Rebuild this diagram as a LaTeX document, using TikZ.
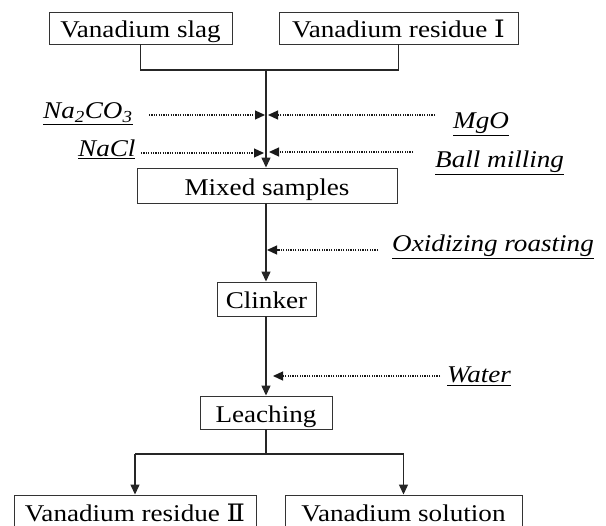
\documentclass[tikz,border=0pt]{standalone}
\usepackage{fontspec}
\usepackage{graphicx}
\setmainfont{Liberation Serif}
\newfontfamily\numfont{DejaVu Serif}
\newcommand{\sx}[1]{\scalebox{1.13}[1]{#1}}
\usetikzlibrary{arrows.meta}
\begin{document}
\begin{tikzpicture}[x=1pt,y=-1pt,
  box/.style={draw=black!80, line width=0.9pt, inner sep=0pt, rectangle,
    text height=19.5pt, text depth=0pt,
    font=\fontsize{24}{26}\selectfont\rmfamily},
  lbl/.style={inner sep=0pt, anchor=base west, font=\fontsize{24}{26}\selectfont\rmfamily\itshape},
  flow/.style={draw=black!85, line width=1.3pt},
  flowarrow/.style={flow, -{Triangle[length=10pt,width=9pt]}},
  feed/.style={draw=black!90, line width=1.2pt, dash pattern=on 1.2pt off 1.2pt,
    -{Triangle[length=10pt,width=9pt]}},
]
\useasboundingbox (0,0) rectangle (606,526);
\fill[white] (0,0) rectangle (606,526);

% boxes
\node[box, minimum width=183pt, minimum height=32pt] (slag) at (140.5,28) {\sx{Vanadium slag}};
\node[box, minimum width=239pt, minimum height=32pt] (res1) at (398.5,28) {\sx{Vanadium residue {\numfont Ⅰ}}};
\node[box, minimum width=260pt, minimum height=35pt] (mixed) at (267,185.5) {\sx{Mixed samples}};
\node[box, minimum width=99pt, minimum height=34pt] (clinker) at (266.5,299) {\sx{Clinker}};
\node[box, minimum width=132pt, minimum height=33pt] (leach) at (266,412.5) {\sx{Leaching}};
\node[box, minimum width=242pt, minimum height=33pt] (res2) at (135,511.5) {\sx{Vanadium residue {\numfont Ⅱ}}};
\node[box, minimum width=237pt, minimum height=33pt] (sol) at (403.5,511.5) {\sx{Vanadium solution}};

% labels
\node[lbl] (na2co3) at (43,119) {\sx{\underline{Na\textsubscript{2}CO\textsubscript{3}}}};
\node[lbl] (nacl) at (78,157) {\sx{\underline{NaCl}}};
\node[lbl] (mgo) at (453,129) {\sx{\underline{MgO}}};
\node[lbl] (ball) at (435,168) {\sx{\underline{Ball milling}}};
\node[lbl] (oxid) at (392,252) {\sx{\underline{Oxidizing roasting}}};
\node[lbl] (water) at (447,383) {\sx{\underline{Water}}};

% junctions
\coordinate (j0) at (266,70);
\coordinate (ja) at (140.5,70);
\coordinate (jb) at (398.5,70);
\coordinate (j1) at (266,454);
\coordinate (jl) at (135,454);
\coordinate (jr) at (403.5,454);

% main flow
\draw[flow] (slag.south) -- (ja) -- (jb) -- (res1.south);
\draw[flowarrow] (j0) -- (mixed.north -| j0);
\draw[flowarrow] (mixed.south -| j0) -- (clinker.north -| j0);
\draw[flowarrow] (clinker.south -| j0) -- (leach.north -| j0);
\draw[flow] (leach.south -| j0) -- (j1);
\draw[flowarrow] (jl) -- (res2.north);
\draw[flow] (jl) -- (jr);
\draw[flowarrow] (jr) -- (sol.north);

% feed arrows
\coordinate (s1) at (149,115);   \coordinate (e1) at (265,115);
\coordinate (s2) at (435,115);   \coordinate (e2) at (268,115);
\coordinate (s3) at (141,153);   \coordinate (e3) at (264,153);
\coordinate (s4) at (413,152);   \coordinate (e4) at (269,152);
\coordinate (s5) at (378,250);   \coordinate (e5) at (267,250);
\coordinate (s6) at (440,376);   \coordinate (e6) at (273,376);
\draw[feed] (s1) -- (e1);
\draw[feed] (s2) -- (e2);
\draw[feed] (s3) -- (e3);
\draw[feed] (s4) -- (e4);
\draw[feed] (s5) -- (e5);
\draw[feed] (s6) -- (e6);
\end{tikzpicture}
\end{document}
